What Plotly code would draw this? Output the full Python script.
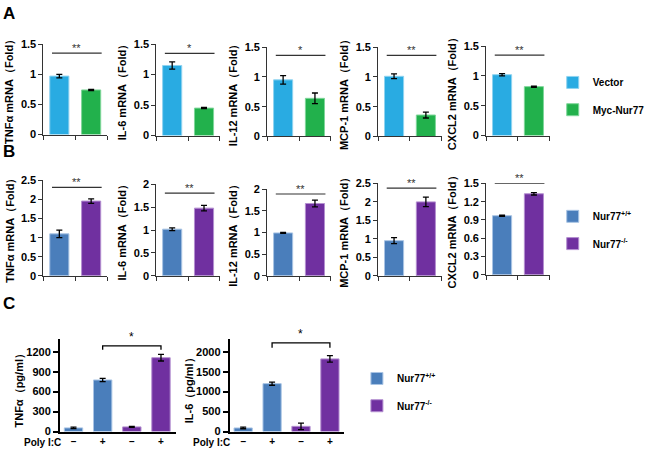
import plotly.graph_objects as go

W, H = 650, 458
FONT = "Liberation Sans, Arial, sans-serif"

# ---------------- data ----------------
genes = ["TNFα", "IL-6", "IL-12", "MCP-1", "CXCL2"]

# Panel A: Vector vs Myc-Nur77
a_vector = [0.97, 1.15, 0.95, 1.01, 1.02]
a_vector_err = [0.03, 0.06, 0.07, 0.04, 0.02]
a_myc = [0.74, 0.45, 0.64, 0.36, 0.82]
a_myc_err = [0.01, 0.01, 0.09, 0.05, 0.01]
a_sig = ["**", "*", "*", "**", "**"]
a_ymax = [1.5, 1.5, 1.5, 1.5, 1.5]
a_dtick = [0.5, 0.5, 0.5, 0.5, 0.5]
a_sig_y = [1.35, 1.35, 1.36, 1.36, 1.35]

# Panel B: Nur77+/+ vs Nur77-/-
b_wt = [1.10, 1.02, 0.99, 0.95, 0.97]
b_wt_err = [0.10, 0.03, 0.01, 0.08, 0.01]
b_ko = [1.96, 1.48, 1.67, 2.00, 1.33]
b_ko_err = [0.06, 0.06, 0.08, 0.13, 0.02]
b_sig = ["**", "**", "**", "**", "**"]
b_ymax = [2.5, 2.0, 2.0, 2.5, 1.5]
b_dtick = [0.5, 0.5, 0.5, 0.5, 0.3]
b_sig_y = [2.32, 1.81, 1.89, 2.37, 1.5]

# Panel C: cytokine secretion
c_cytokines = ["TNFα（pg/ml）", "IL-6（pg/ml）"]
c_poly = ["–", "+", "–", "+"]
c_wt = [[55, 775], [90, 1200]]
c_wt_err = [[10, 25], [20, 40]]
c_ko = [[70, 1110], [130, 1820]]
c_ko_err = [[8, 50], [80, 80]]
c_ymax = [1390, 2317]
c_tickmax = [1200, 2000]
c_dtick = [300, 500]
c_bracket_y = [1288, 2220]
c_bracket_tick = [1229, 2098]
c_sig = ["*", "*"]

# colours
A_BLUE, A_GREEN = "#29ABE2", "#22B14C"
B_BLUE, B_PURPLE = "#4A7EBB", "#7030A0"

# ---------------- layout geometry (pixels) ----------------
ab_x0 = [45, 162, 277, 392, 504]
ab_w = 66
a_top = [39, 39, 42, 42, 41]
a_bot = [132, 133, 134, 134, 133]
b_top = [179, 183, 188, 182, 182]
b_bot = [277, 277, 277, 277, 276]
c_x = [(62, 182), (238, 357)]
c_top, c_bot = 342, 437
c_xrange = [-0.47, 3.5]


def xd(px):
    return px / W


def yd(py):
    return 1 - py / H


def ticks(ymax, dt):
    n = int(round(ymax / dt))
    vals = [round(k * dt, 6) for k in range(n + 1)]
    return vals, [f"{t:g}" for t in vals]


fig = go.Figure()
layout = {}
annotations = []
shapes = []


def add_pair(idx, xdom, ydom, xr, yr, yt, thick=False, ctext=None):
    xa = "xaxis" if idx == 1 else f"xaxis{idx}"
    ya = "yaxis" if idx == 1 else f"yaxis{idx}"
    lc = "#000" if thick else "#333"
    lw = 1.6 if thick else 1
    tv, tt = yt
    layout[ya] = dict(domain=ydom, range=yr, anchor=f"x{idx}" if idx > 1 else "x",
                      showline=True, linecolor=lc, linewidth=lw, showgrid=False,
                      zeroline=False, ticks="outside", ticklen=4 if not thick else 5,
                      tickwidth=lw, tickcolor=lc, tickvals=tv, ticktext=tt,
                      ticklabeloverflow="allow",
                      tickfont=dict(family=FONT, size=11, color="#000", weight="bold"),
                      fixedrange=True)
    xdict = dict(domain=xdom, range=xr, anchor=f"y{idx}" if idx > 1 else "y",
                 showline=True, linecolor=lc, linewidth=lw, showgrid=False,
                 zeroline=False, fixedrange=True)
    if ctext is None:
        xdict.update(tickvals=[-0.5, 0.5, 1.5], ticks="outside", ticklen=4,
                     tickcolor=lc, showticklabels=False)
    else:
        xdict.update(tickvals=list(range(len(ctext))), ticktext=ctext, ticks="",
                     tickfont=dict(family=FONT, size=10, color="#000", weight="bold"))
    layout[xa] = xdict


def axref(idx):
    return ("x", "y") if idx == 1 else (f"x{idx}", f"y{idx}")


# ----- Panels A and B -----
panels = [
    (0, a_vector, a_vector_err, a_myc, a_myc_err, a_sig, a_ymax, a_dtick, a_sig_y,
     a_top, a_bot, ("Vector", "Myc-Nur77"), (A_BLUE, A_GREEN),
     ("#8fd3f0", "#7fd69a"), ("legend", "legend2")),
    (5, b_wt, b_wt_err, b_ko, b_ko_err, b_sig, b_ymax, b_dtick, b_sig_y,
     b_top, b_bot, ("Nur77<sup>+/+</sup>", "Nur77<sup>-/-</sup>"), (B_BLUE, B_PURPLE),
     ("#a9c4e4", "#b48fd0"), ("legend3", "legend4")),
]
for off, v1, e1, v2, e2, sig, ymax, dts, sig_y, tops, bots, names, cols, edge, legs in panels:
    for i in range(5):
        idx = off + i + 1
        xdom = [xd(ab_x0[i]), xd(ab_x0[i] + ab_w)]
        ydom = [yd(bots[i]), yd(tops[i])]
        ytop = max(ymax[i], sig_y[i]) * 1.002
        add_pair(idx, xdom, ydom, [-0.5, 1.5], [0, ytop], ticks(ymax[i], dts[i]))
        xr, yr = axref(idx)
        for k, (vals, errs) in enumerate(((v1, e1), (v2, e2))):
            fig.add_trace(go.Bar(
                x=[k], y=[vals[i]], width=0.6, name=names[k],
                marker=dict(color=cols[k], line=dict(color=edge[k], width=1)),
                error_y=dict(type="data", array=[errs[i]], color="#000",
                             thickness=1.3, width=3),
                xaxis=xr, yaxis=yr, showlegend=(i == 0), legend=legs[k]))
        shapes.append(dict(type="line", xref=xr, yref=yr, x0=-0.23, x1=1.33,
                           y0=sig_y[i], y1=sig_y[i], line=dict(color="#333", width=1.2)))
        annotations.append(dict(xref=xr, yref=yr, x=0.55, y=sig_y[i], text=sig[i],
                                showarrow=False, yanchor="bottom", yshift=-3,
                                font=dict(family=FONT, size=11, color="#333")))
        annotations.append(dict(xref="paper", yref="paper", x=xd(ab_x0[i] - 35),
                                y=yd((tops[i] + bots[i]) / 2),
                                text=f"{genes[i]} mRNA（Fold）", textangle=-90,
                                showarrow=False, xanchor="center", yanchor="middle",
                                font=dict(family=FONT, size=11, color="#000", weight="bold")))

# ----- Panel C -----
for j in range(2):
    idx = 11 + j
    xdom = [xd(c_x[j][0]), xd(c_x[j][1])]
    ydom = [yd(c_bot), yd(c_top)]
    add_pair(idx, xdom, ydom, c_xrange, [0, c_ymax[j]], ticks(c_tickmax[j], c_dtick[j]),
             thick=True, ctext=c_poly)
    xr, yr = axref(idx)
    fig.add_trace(go.Bar(
        x=[0, 1], y=c_wt[j], width=0.63, name="Nur77<sup>+/+</sup>",
        marker=dict(color=B_BLUE, line=dict(color="#a9c4e4", width=1)),
        error_y=dict(type="data", array=c_wt_err[j], color="#000", thickness=1.3, width=3),
        xaxis=xr, yaxis=yr, showlegend=(j == 0), legend="legend5"))
    fig.add_trace(go.Bar(
        x=[2, 3], y=c_ko[j], width=0.63, name="Nur77<sup>-/-</sup>",
        marker=dict(color=B_PURPLE, line=dict(color="#b48fd0", width=1)),
        error_y=dict(type="data", array=c_ko_err[j], color="#000", thickness=1.3, width=3),
        xaxis=xr, yaxis=yr, showlegend=(j == 0), legend="legend6"))
    by, bt = c_bracket_y[j], c_bracket_tick[j]
    shapes.append(dict(type="path", xref=xr, yref=yr,
                       path=f"M 1,{bt} L 1,{by} L 3,{by} L 3,{bt}",
                       line=dict(color="#000", width=1.3)))
    annotations.append(dict(xref=xr, yref=yr, x=2, y=by, text=c_sig[j], showarrow=False,
                            yanchor="bottom", yshift=0,
                            font=dict(family=FONT, size=12, color="#000")))
    annotations.append(dict(xref="paper", yref="paper", x=xd(c_x[j][0] - 42),
                            y=yd((c_top + c_bot) / 2 + 3), text=c_cytokines[j],
                            textangle=-90, showarrow=False, xanchor="center",
                            yanchor="middle",
                            font=dict(family=FONT, size=11, color="#000", weight="bold")))
    annotations.append(dict(xref="paper", yref="paper", x=xd(c_x[j][0] + 3), y=yd(448),
                            text="Poly I:C", showarrow=False, xanchor="right",
                            yanchor="middle",
                            font=dict(family=FONT, size=10, color="#000", weight="bold")))

# panel letters
for letter, py in (("A", 8), ("B", 149), ("C", 305)):
    annotations.append(dict(xref="paper", yref="paper", x=xd(1), y=yd(py), text=letter,
                            showarrow=False, xanchor="left", yanchor="middle",
                            font=dict(family=FONT, size=17, color="#000", weight="bold")))

# one legend per entry so each entry can sit exactly where the reference has it
legfont = dict(family=FONT, size=10, color="#000", weight="bold")
leg_pos = {"legend": (573, 78.5), "legend2": (573, 106.5),
           "legend3": (573, 216), "legend4": (573, 244),
           "legend5": (370, 382.5), "legend6": (370, 410.5)}
for name, (lx, ly) in leg_pos.items():
    layout[name] = dict(x=xd(lx), y=yd(ly), xanchor="left", yanchor="middle",
                        font=legfont, bgcolor="rgba(0,0,0,0)",
                        itemwidth=30, itemclick=False, itemdoubleclick=False)

fig.update_layout(
    width=W, height=H, margin=dict(l=0, r=0, t=0, b=0),
    paper_bgcolor="white", plot_bgcolor="white",
    showlegend=True, barmode="overlay",
    annotations=annotations, shapes=shapes, **layout)

fig.write_html("out.html", config={"displayModeBar": False},
               post_script="document.body.style.margin='0';")
